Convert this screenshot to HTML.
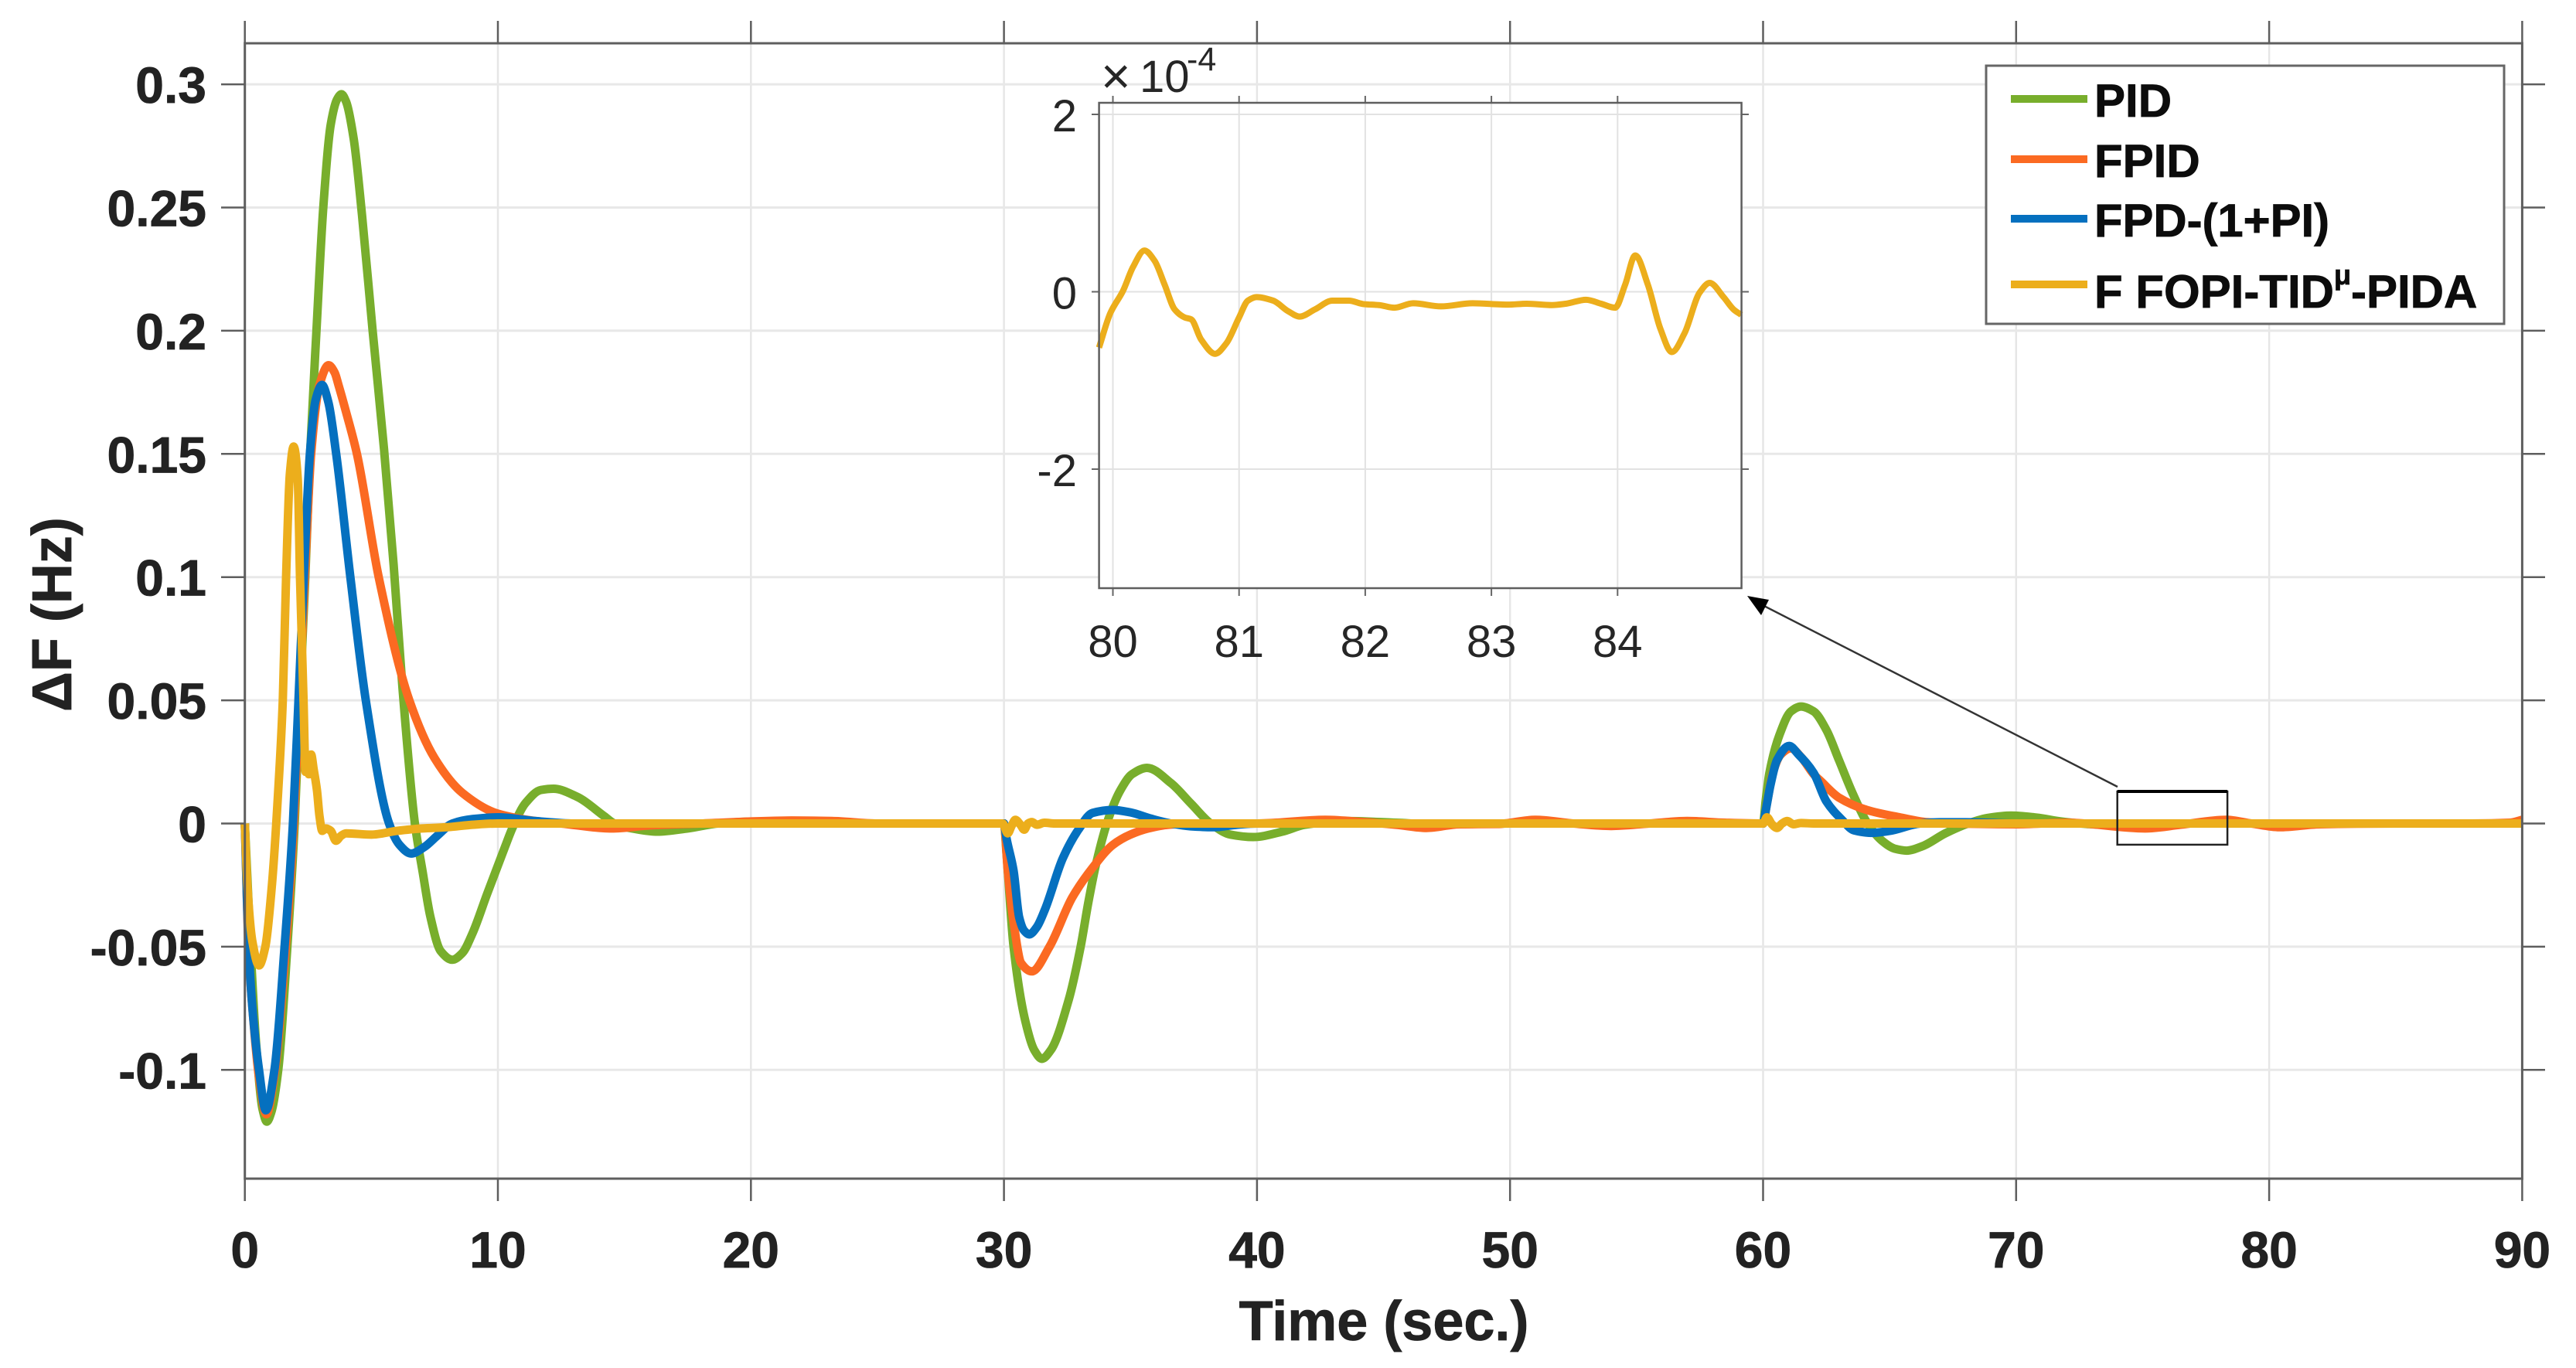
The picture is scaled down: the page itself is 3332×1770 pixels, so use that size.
<!DOCTYPE html>
<html lang="en">
<head>
<meta charset="utf-8">
<title>Frequency deviation chart</title>
<style>
html,body{margin:0;padding:0;background:#fff;}
svg{display:block;font-family:"Liberation Sans",Arial,sans-serif;}
</style>
</head>
<body>
<svg id="chart" xmlns="http://www.w3.org/2000/svg" width="3332" height="1770" viewBox="0 0 3332 1770">
  <rect width="3332" height="1770" fill="#fff"/>
  <g id="main-grid"></g>
  <g id="main-series"></g>
  <g id="main-axes"></g>
  <text x="1790" y="1734" font-size="72" font-weight="bold" fill="#222" stroke="#222" stroke-width="0.8" text-anchor="middle">Time (sec.)</text>
  <text transform="translate(92,795) rotate(-90)" font-size="72" font-weight="bold" fill="#222" stroke="#222" stroke-width="0.8" text-anchor="middle">ΔF (Hz)</text>
  <g id="zoom-marker"></g>
  <g id="inset"></g>
  <g id="legend">
    <rect x="2569" y="85" width="670" height="334" fill="#fff" stroke="#666" stroke-width="3"/>
    <line x1="2601" x2="2700" y1="128" y2="128" stroke="#78AE2C" stroke-width="10"/>
    <text x="2709" y="151" font-size="60" font-weight="bold" fill="#0c0c0c" stroke="#0c0c0c" stroke-width="0.8">PID</text>
    <line x1="2601" x2="2700" y1="206" y2="206" stroke="#FB6A22" stroke-width="10"/>
    <text x="2709" y="229" font-size="60" font-weight="bold" fill="#0c0c0c" stroke="#0c0c0c" stroke-width="0.8">FPID</text>
    <line x1="2601" x2="2700" y1="283" y2="283" stroke="#0570BF" stroke-width="10"/>
    <text x="2709" y="306" font-size="60" font-weight="bold" fill="#0c0c0c" stroke="#0c0c0c" stroke-width="0.8" textLength="304" lengthAdjust="spacingAndGlyphs">FPD-(1+PI)</text>
    <line x1="2601" x2="2700" y1="368" y2="368" stroke="#ECAE1C" stroke-width="10"/>
    <text x="2709" y="398" font-size="60" font-weight="bold" fill="#0c0c0c" stroke="#0c0c0c" stroke-width="0.8">F FOPI-TID<tspan font-size="36" dy="-30">μ</tspan><tspan dy="30">-PIDA</tspan></text>
  </g>
</svg>
<script>
// ---- Tick data ----
var xTicks = [0,10,20,30,40,50,60,70,80,90];
var xTickLabels = ['0','10','20','30','40','50','60','70','80','90'];
var yTicks = [0.3,0.25,0.2,0.15,0.1,0.05,0,-0.05,-0.1];
var yTickLabels = ['0.3','0.25','0.2','0.15','0.1','0.05','0','-0.05','-0.1'];
var insetXTicks = [80,81,82,83,84];
var insetXTickLabels = ['80','81','82','83','84'];
var insetYTicks = [2,0,-2];
var insetYTickLabels = ['2','0','-2'];

// ---- Series data: time in s, deviation in Hz ----
var pidTime = [0,0.1,0.25,0.45,0.7,0.87,1.05,1.32,1.68,1.97,2.17,2.39,2.58,2.83,3.1,3.4,3.65,3.82,4,4.3,4.63,5.05,5.5,5.88,6.23,6.72,7.03,7.33,7.74,8.2,8.6,9,9.57,10.28,10.58,11.1,11.7,12.2,13.1,14.2,14.6,15.4,16.3,17.5,18.7,20.1,23,30,30.1,30.38,30.84,31.2,31.5,31.85,32.56,33.03,33.34,33.65,34.12,34.59,35.06,35.65,36.6,37.4,38.17,38.95,39.85,41,41.9,43.5,45.5,47,50,60,60.1,60.25,60.65,61.1,61.5,62,62.5,63,63.55,64.1,64.7,65.2,65.68,66.3,67.2,68.1,68.9,69.8,70.8,71.8,72.8,74,76,90];
var pidValues = [0,-0.022,-0.055,-0.09,-0.116,-0.121,-0.117,-0.1,-0.05,0,0.05,0.1,0.15,0.2,0.25,0.284,0.294,0.296,0.293,0.278,0.247,0.2,0.152,0.105,0.055,0,-0.0198,-0.0377,-0.0518,-0.0553,-0.0525,-0.0445,-0.0287,-0.0095,-0.0017,0.0084,0.0136,0.0141,0.011,0.003,0,-0.0022,-0.0033,-0.002,0,0.0008,0,0,-0.012,-0.05,-0.08,-0.092,-0.0955,-0.092,-0.0715,-0.05,-0.0317,-0.016,0.0017,0.0133,0.02,0.0226,0.0164,0.008,0,-0.0045,-0.0055,-0.0033,-0.0005,0.001,0.0003,-0.0003,0,0,0.009,0.0205,0.036,0.0455,0.0475,0.0455,0.038,0.0257,0.012,0.0005,-0.007,-0.0102,-0.011,-0.0092,-0.004,0,0.0023,0.0032,0.0024,0.0008,-0.0002,-0.0007,0,0];

var fpidTime = [0,0.15,0.3,0.56,0.85,1.17,1.62,1.94,2.15,2.37,2.62,2.95,3.31,3.55,3.7,4,4.43,5.29,6.5,7.5,8.6,10,11.5,12.5,14.5,16,18,21.6,23.2,25,30,30.15,30.38,30.68,31.1,31.8,32.7,33.5,34.3,35,35.7,36.5,37.5,40,42.7,44.3,45.5,46.7,48,49.5,51,52.5,54,55.5,57,58.5,60,60.15,60.4,60.7,61.1,61.5,62,62.3,63,64.1,65.4,66.5,67.5,70,72,75.1,76.5,78.3,79.3,80.4,82,85,88,89.5,90];
var fpidValues = [0,-0.052,-0.075,-0.103,-0.118,-0.102,-0.05,0,0.05,0.1,0.15,0.178,0.186,0.183,0.178,0.167,0.15,0.1,0.05,0.0265,0.0124,0.004,0.001,0,-0.002,-0.0008,0,0.0012,0.001,0,0,-0.019,-0.04,-0.0567,-0.06,-0.05,-0.03,-0.018,-0.0087,-0.0045,-0.002,-0.0005,0,0,0.0015,0.0005,-0.0005,-0.0018,-0.0003,-0.0002,0.0015,0,-0.001,0,0.001,0.0003,0,0.008,0.021,0.028,0.0305,0.027,0.02,0.017,0.0105,0.0055,0.0025,0.0005,0,-0.0003,0.0003,-0.002,-0.0005,0.0015,0,-0.0015,-0.0003,0,0,0.0003,0.0015];

var fpdTime = [0,0.15,0.3,0.56,0.83,1.17,1.57,1.9,2.12,2.33,2.57,2.8,3.05,3.3,3.61,4.17,4.78,5.7,6.1,6.57,7.1,7.6,8.2,9,10,11.5,13,30,30.1,30.38,30.6,30.8,31,31.3,31.62,32.33,32.95,33.5,34.3,35,35.8,36.6,37.5,38.3,39.2,40,60,60.1,60.3,60.55,61.03,61.4,62,62.5,63.1,63.6,64.3,65,66.2,67,68,70,90];
var fpdValues = [0,-0.05,-0.075,-0.1,-0.1164,-0.1,-0.05,0,0.05,0.1,0.15,0.172,0.178,0.171,0.15,0.1,0.05,0,-0.0085,-0.0122,-0.0095,-0.005,0,0.0018,0.0025,0.001,0,0,-0.006,-0.0192,-0.038,-0.0435,-0.045,-0.042,-0.0349,-0.014,-0.0024,0.0043,0.0055,0.0045,0.002,0,-0.0012,-0.0015,-0.0005,0,0,0.005,0.016,0.0257,0.0315,0.028,0.0205,0.009,0.0017,-0.0028,-0.0038,-0.003,0,0.0005,0.0005,0,0];

var ffopiTime = [0,0.1,0.3,0.56,0.81,1.07,1.32,1.5,1.63,1.78,1.93,2.09,2.18,2.32,2.4,2.47,2.53,2.62,2.72,2.85,2.95,3.06,3.2,3.4,3.6,3.8,4,5,6,7,8,9,10,29.95,30.15,30.3,30.45,30.65,30.8,30.95,31.1,31.3,31.6,32,60,60.15,60.35,60.55,60.75,60.95,61.2,61.5,62,90];
var ffopiValues = [0,-0.025,-0.048,-0.0576,-0.05,-0.025,0.0135,0.05,0.1,0.142,0.153,0.14,0.1,0.05,0.021,0.026,0.02,0.028,0.022,0.0135,0.003,-0.003,-0.002,-0.003,-0.007,-0.005,-0.004,-0.0045,-0.003,-0.002,-0.0015,-0.0005,0,0,-0.004,-0.001,0.0015,-0.0005,-0.0025,0,0.0006,-0.0005,0.0003,0,0,0.0025,-0.0003,-0.0018,0,0.001,-0.0003,0.0002,0,0];

// ---- Inset data: time in s, deviation in units of 1e-4 Hz ----
var insetTime = [79.89,79.98,80.08,80.16,80.25,80.33,80.41,80.49,80.57,80.62,80.7,80.81,80.9,81,81.07,81.14,81.27,81.39,81.48,81.6,81.74,81.87,81.99,82.11,82.23,82.38,82.6,82.85,83.13,83.28,83.48,83.59,83.75,83.87,83.98,84.06,84.14,84.24,84.34,84.43,84.53,84.65,84.73,84.84,84.92,84.98];
var insetValues = [-0.63,-0.24,0.01,0.28,0.465,0.35,0.08,-0.2,-0.29,-0.31,-0.54,-0.7,-0.58,-0.29,-0.1,-0.06,-0.1,-0.22,-0.28,-0.2,-0.1,-0.1,-0.14,-0.15,-0.18,-0.13,-0.165,-0.13,-0.145,-0.135,-0.15,-0.135,-0.09,-0.135,-0.18,0.08,0.41,0.08,-0.42,-0.68,-0.47,-0.01,0.1,-0.06,-0.2,-0.26];

// ---- Axis functions ----
var plot = {left:316.7, right:3262.4, top:56, bottom:1525};
function x(t){ return 316.7 + t*32.73; }
function y(v){ return 1065.5 - v*3188; }
var ins = {left:1421.6, right:2252.6, top:133, bottom:761};
function xi(t){ return 1439.5 + (t-80)*163.2; }
function yi(v){ return 377.5 - v*114.75; }

var NS = 'http://www.w3.org/2000/svg';
function mk(parent, tag, attrs, text){
  var el = document.createElementNS(NS, tag);
  for (var k in attrs) el.setAttribute(k, attrs[k]);
  if (text !== undefined) el.textContent = text;
  parent.appendChild(el);
  return el;
}
// Shape-preserving (monotone) cubic through the knots, so long flat stretches never overshoot.
function splinePath(ts, vs, fx, fy){
  var n = ts.length, m = [], i;
  for (i = 0; i < n; i++){
    if (i === 0) m[i] = (vs[1]-vs[0])/(ts[1]-ts[0]);
    else if (i === n-1) m[i] = (vs[n-1]-vs[n-2])/(ts[n-1]-ts[n-2]);
    else {
      var h0 = ts[i]-ts[i-1], h1 = ts[i+1]-ts[i];
      var d0 = (vs[i]-vs[i-1])/h0;
      var d1 = (vs[i+1]-vs[i])/h1;
      if (d0*d1 <= 0) m[i] = 0;
      else {
        var w1 = 2*h1+h0, w2 = h1+2*h0;
        m[i] = (w1+w2)/(w1/d0 + w2/d1);
      }
    }
  }
  var d = 'M' + fx(ts[0]).toFixed(2) + ' ' + fy(vs[0]).toFixed(2);
  for (i = 0; i < n-1; i++){
    var h = ts[i+1]-ts[i];
    d += 'C' + fx(ts[i]+h/3).toFixed(2) + ' ' + fy(vs[i]+m[i]*h/3).toFixed(2) + ' ' +
         fx(ts[i+1]-h/3).toFixed(2) + ' ' + fy(vs[i+1]-m[i+1]*h/3).toFixed(2) + ' ' +
         fx(ts[i+1]).toFixed(2) + ' ' + fy(vs[i+1]).toFixed(2);
  }
  return d;
}

// ---- Main grid ----
var gridG = document.getElementById('main-grid');
xTicks.forEach(function(t){
  if (t === 0 || t === 90) return;
  var g = mk(gridG, 'line', {x1:x(t), x2:x(t), y1:plot.top, y2:plot.bottom, stroke:'#e6e6e6', 'stroke-width':2.5});
  
  
});
yTicks.forEach(function(v){
  var g = mk(gridG, 'line', {x1:plot.left, x2:plot.right, y1:y(v), y2:y(v), stroke:'#e8e8e8', 'stroke-width':3});
  
  
});

// ---- Main series ----
var seriesG = document.getElementById('main-series');
var p1 = mk(seriesG, 'path', {d:splinePath(pidTime, pidValues, x, y), fill:'none', stroke:'#78AE2C', 'stroke-width':11, 'stroke-linejoin':'round'});


var p2 = mk(seriesG, 'path', {d:splinePath(fpidTime, fpidValues, x, y), fill:'none', stroke:'#FB6A22', 'stroke-width':11, 'stroke-linejoin':'round'});


var p3 = mk(seriesG, 'path', {d:splinePath(fpdTime, fpdValues, x, y), fill:'none', stroke:'#0570BF', 'stroke-width':11, 'stroke-linejoin':'round'});


var p4 = mk(seriesG, 'path', {d:splinePath(ffopiTime, ffopiValues, x, y), fill:'none', stroke:'#ECAE1C', 'stroke-width':11, 'stroke-linejoin':'round'});



// ---- Main axes ----
var axG = document.getElementById('main-axes');
var frame = mk(axG, 'rect', {x:plot.left, y:plot.top, width:plot.right-plot.left, height:plot.bottom-plot.top, fill:'none', stroke:'#5e5e5e', 'stroke-width':3});


xTicks.forEach(function(t, i){
  var a = mk(axG, 'line', {x1:x(t), x2:x(t), y1:plot.bottom, y2:1554, stroke:'#5e5e5e', 'stroke-width':2.5});
  
  
  var b = mk(axG, 'line', {x1:x(t), x2:x(t), y1:plot.top, y2:27, stroke:'#5e5e5e', 'stroke-width':2.5});
  
  
  var l = mk(axG, 'text', {x:x(t), y:1640, 'font-size':66, 'font-weight':'bold', fill:'#222', stroke:'#222', 'stroke-width':0.8, 'text-anchor':'middle'}, xTickLabels[i]);
  
  
});
yTicks.forEach(function(v, i){
  var a = mk(axG, 'line', {x1:286, x2:plot.left, y1:y(v), y2:y(v), stroke:'#5e5e5e', 'stroke-width':2.5});
  
  
  var b = mk(axG, 'line', {x1:plot.right, x2:3292, y1:y(v), y2:y(v), stroke:'#5e5e5e', 'stroke-width':2.5});
  
  
  var l = mk(axG, 'text', {x:267, y:y(v)+24, 'font-size':66, 'font-weight':'bold', fill:'#222', stroke:'#222', 'stroke-width':0.8, 'text-anchor':'end'}, yTickLabels[i]);
  
  
});

// ---- Zoom marker and arrow ----
var zG = document.getElementById('zoom-marker');
var zoomBox = mk(zG, 'rect', {x:x(74), y:y(0.013), width:x(78.35)-x(74), height:y(-0.0086)-y(0.013), fill:'none', stroke:'#222', 'stroke-width':2.5});


var zoomTop = mk(zG, 'line', {x1:x(74), x2:x(78.35), y1:y(0.013), y2:y(0.013), stroke:'#000', 'stroke-width':4});


var arrowLine = mk(zG, 'line', {x1:2739, y1:1018, x2:2278, y2:782, stroke:'#333', 'stroke-width':2.5});


var arrowHead = mk(zG, 'polygon', {points:'2260,771 2288,776 2278,796', fill:'#000'});



// ---- Inset ----
var iG = document.getElementById('inset');
var iBg = mk(iG, 'rect', {x:ins.left, y:ins.top, width:ins.right-ins.left, height:ins.bottom-ins.top, fill:'#fff'});


insetXTicks.forEach(function(t, i){
  var g = mk(iG, 'line', {x1:xi(t), x2:xi(t), y1:ins.top, y2:ins.bottom, stroke:'#e2e2e2', 'stroke-width':2});
  
  
  var a = mk(iG, 'line', {x1:xi(t), x2:xi(t), y1:ins.bottom, y2:771, stroke:'#666', 'stroke-width':2});
  
  
  var b = mk(iG, 'line', {x1:xi(t), x2:xi(t), y1:ins.top, y2:124, stroke:'#666', 'stroke-width':2});
  
  
  var l = mk(iG, 'text', {x:xi(t), y:850, 'font-size':58, fill:'#262626', 'text-anchor':'middle'}, insetXTickLabels[i]);
  
  
});
insetYTicks.forEach(function(v, i){
  var g = mk(iG, 'line', {x1:ins.left, x2:ins.right, y1:yi(v), y2:yi(v), stroke:'#e2e2e2', 'stroke-width':2});
  
  
  var a = mk(iG, 'line', {x1:1412, x2:ins.left, y1:yi(v), y2:yi(v), stroke:'#666', 'stroke-width':2});
  
  
  var b = mk(iG, 'line', {x1:ins.right, x2:2262, y1:yi(v), y2:yi(v), stroke:'#666', 'stroke-width':2});
  
  
  var l = mk(iG, 'text', {x:1393, y:yi(v)+22, 'font-size':58, fill:'#262626', 'text-anchor':'end'}, insetYTickLabels[i]);
  
  
});
var iLine = mk(iG, 'path', {d:splinePath(insetTime, insetValues, xi, yi), fill:'none', stroke:'#ECAE1C', 'stroke-width':8, 'stroke-linejoin':'round'});


var iFrame = mk(iG, 'rect', {x:ins.left, y:ins.top, width:ins.right-ins.left, height:ins.bottom-ins.top, fill:'none', stroke:'#5e5e5e', 'stroke-width':2.5});


var expMul = mk(iG, 'text', {x:1424, y:121, 'font-size':66, fill:'#262626'}, '×');


var expBase = mk(iG, 'text', {x:1474, y:119, 'font-size':58, fill:'#262626'}, '10');


var expPow = mk(iG, 'text', {x:1535, y:91, 'font-size':43, fill:'#262626'}, '-4');


</script>
</body>
</html>
